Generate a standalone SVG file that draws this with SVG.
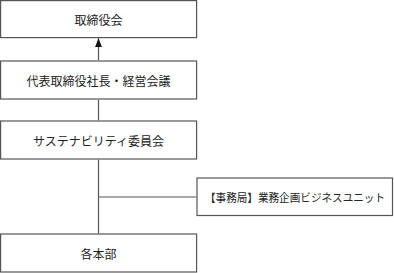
<svg xmlns="http://www.w3.org/2000/svg" width="394" height="273" viewBox="0 0 394 273">
<style>
.box{fill:#fff;stroke:#555;stroke-width:1.2}
.t{font-family:"Noto Sans CJK JP","Noto Sans CJK SC",sans-serif;font-size:12px;fill:#222;text-anchor:middle;dominant-baseline:central}
.s{font-size:11px}
.c{stroke:#555;stroke-width:1.2;fill:none}
</style>
<defs>
<marker id="ah" markerWidth="9" markerHeight="7" refX="9" refY="3.5" orient="auto" markerUnits="userSpaceOnUse" viewBox="0 0 9 7">
<path d="M0,0 L9,3.5 L0,7 Z" fill="#111"/>
</marker>
</defs>
<rect width="394" height="273" fill="#fff"/>
<g id="board">
<rect class="box" x="0.6" y="0.6" width="196" height="37"/>
<text class="t" x="98.5" y="19">取締役会</text>
</g>
<g id="president">
<rect class="box" x="0.6" y="61" width="196" height="38"/>
<text class="t" x="98.5" y="80">代表取締役社長・経営会議</text>
</g>
<g id="committee">
<rect class="box" x="0.6" y="121" width="196" height="38"/>
<text class="t" x="98.5" y="140">サステナビリティ委員会</text>
</g>
<g id="secretariat">
<rect class="box" x="197" y="178" width="195.5" height="37.5"/>
<text class="t s" x="295" y="197" textLength="180" lengthAdjust="spacingAndGlyphs">【事務局】業務企画ビジネスユニット</text>
</g>
<g id="divisions">
<rect class="box" x="0.6" y="234" width="196" height="38"/>
<text class="t" x="98.5" y="253">各本部</text>
</g>
<g id="connectors">
<line class="c" x1="98.5" y1="60.4" x2="98.5" y2="38.2" marker-end="url(#ah)"/>
<line class="c" x1="98.5" y1="99.6" x2="98.5" y2="120.4"/>
<line class="c" x1="98.5" y1="159.6" x2="98.5" y2="233.4"/>
<line class="c" x1="98.5" y1="197" x2="196.4" y2="197"/>
</g>
</svg>
